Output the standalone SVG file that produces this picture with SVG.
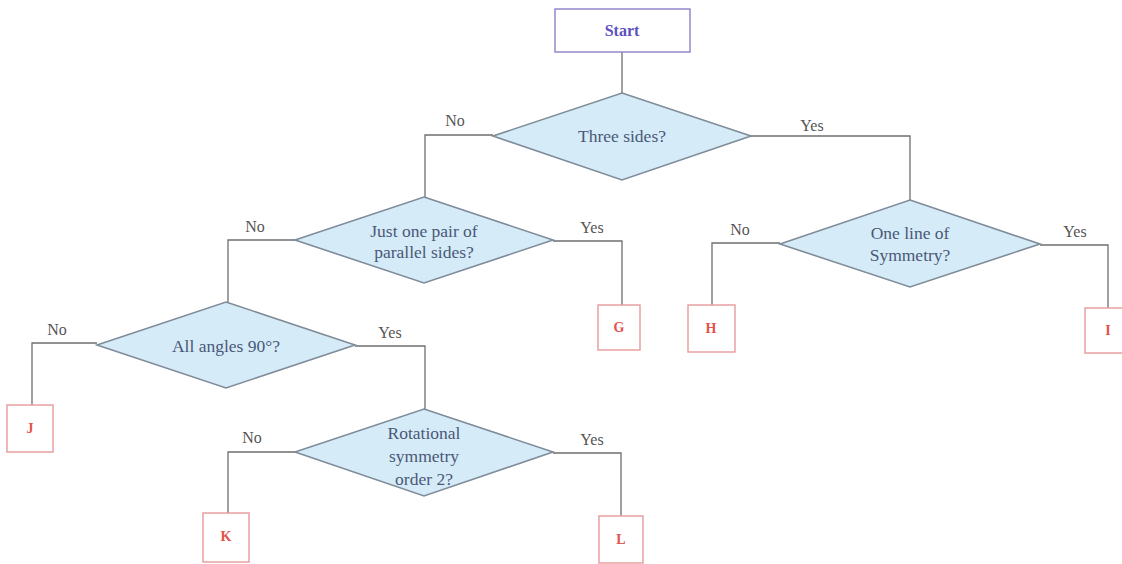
<svg xmlns="http://www.w3.org/2000/svg" width="1122" height="564" viewBox="0 0 1122 564">
<style>
.dia{fill:#d5ebf7;stroke:#7f8c99;stroke-width:1.6}
.box{fill:#ffffff;stroke:#e89a9a;stroke-width:1.4}
.start{fill:#ffffff;stroke:#8a80c8;stroke-width:1.4}
.conn{fill:none;stroke:#6f6f6f;stroke-width:1.3}
.q{font-family:"Liberation Serif",serif;font-size:17.5px;fill:#4a5878;text-anchor:middle}
.lbl{font-family:"Liberation Serif",serif;font-size:16px;fill:#555555;text-anchor:middle}
.let{font-family:"Liberation Serif",serif;font-size:14px;font-weight:bold;fill:#e4524c;text-anchor:middle}
.st{font-family:"Liberation Serif",serif;font-size:16px;font-weight:bold;fill:#5a50c0;text-anchor:middle}
</style>
<rect width="1122" height="564" fill="#ffffff"/>
<g id="connectors">
<path class="conn" d="M622,52 V93"/>
<path class="conn" d="M493,135 H425 V197"/>
<path class="conn" d="M751,136 H910 V200"/>
<path class="conn" d="M295,240 H228 V302"/>
<path class="conn" d="M553,241 H622 V305"/>
<path class="conn" d="M780,243 H712 V305"/>
<path class="conn" d="M1040,245 H1108 V308"/>
<path class="conn" d="M97,343 H32 V405"/>
<path class="conn" d="M355,346 H425 V409"/>
<path class="conn" d="M295,452 H228 V513"/>
<path class="conn" d="M553,453 H621 V516"/>
</g>
<g id="labels">
<text class="lbl" x="455" y="126">No</text>
<text class="lbl" x="812" y="131">Yes</text>
<text class="lbl" x="255" y="232">No</text>
<text class="lbl" x="592" y="233">Yes</text>
<text class="lbl" x="740" y="235">No</text>
<text class="lbl" x="1075" y="237">Yes</text>
<text class="lbl" x="57" y="335">No</text>
<text class="lbl" x="390" y="338">Yes</text>
<text class="lbl" x="252" y="443">No</text>
<text class="lbl" x="592" y="445">Yes</text>
</g>
<g id="start">
<rect class="start" x="555" y="9" width="135" height="43"/>
<text class="st" x="622" y="36">Start</text>
</g>
<g id="q1">
<polygon class="dia" points="622,93 751,136 622,180 493,136"/>
<text class="q" x="622" y="142">Three sides?</text>
</g>
<g id="q2">
<polygon class="dia" points="424,197 553,240 424,283 295,240"/>
<text class="q" x="424" y="237">Just one pair of</text>
<text class="q" x="424" y="258">parallel sides?</text>
</g>
<g id="q3">
<polygon class="dia" points="910,200 1040,244 910,287 780,244"/>
<text class="q" x="910" y="239">One line of</text>
<text class="q" x="910" y="261">Symmetry?</text>
</g>
<g id="q4">
<polygon class="dia" points="226,302 355,345 226,388 97,345"/>
<text class="q" x="226" y="352">All angles 90°?</text>
</g>
<g id="q5">
<polygon class="dia" points="424,409 553,452 424,496 295,452"/>
<text class="q" x="424" y="439">Rotational</text>
<text class="q" x="424" y="462">symmetry</text>
<text class="q" x="424" y="485">order 2?</text>
</g>
<g id="G"><rect class="box" x="598" y="305" width="42" height="45"/><text class="let" x="619" y="332">G</text></g>
<g id="H"><rect class="box" x="688" y="305" width="47" height="47"/><text class="let" x="711" y="333">H</text></g>
<g id="I"><rect class="box" x="1085" y="308" width="45" height="45"/><text class="let" x="1108" y="335">I</text></g>
<g id="J"><rect class="box" x="7" y="405" width="46" height="47"/><text class="let" x="30" y="433">J</text></g>
<g id="K"><rect class="box" x="203" y="513" width="46" height="49"/><text class="let" x="226" y="541">K</text></g>
<g id="L"><rect class="box" x="599" y="516" width="44" height="47"/><text class="let" x="621" y="544">L</text></g>
</svg>
